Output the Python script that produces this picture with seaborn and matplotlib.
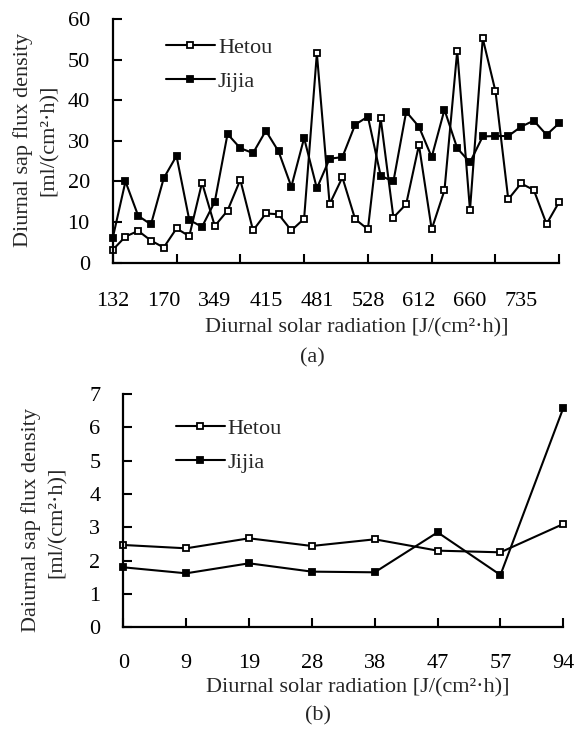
import numpy as np
import pandas as pd
import matplotlib
matplotlib.use("Agg")
import matplotlib.pyplot as plt
import seaborn as sns

# ---- data (a) ----
top_ticklabels = ['132', '170', '349', '415', '481', '528', '612', '660', '735']
top_hetou = [3.1, 6.4, 7.8, 5.4, 3.7, 8.4, 6.5, 19.7, 9.0, 12.8, 20.4, 7.9, 12.1, 11.9,
             7.9, 10.8, 51.6, 14.4, 21.0, 10.7, 8.2, 35.6, 11.1, 14.4, 29.0, 8.2, 17.8,
             52.2, 12.9, 55.3, 42.2, 15.6, 19.5, 17.9, 9.5, 15.0]
top_jijia = [6.0, 20.0, 11.5, 9.4, 20.8, 26.3, 10.5, 8.8, 15.0, 31.7, 28.2, 27.0, 32.5, 27.4,
             18.7, 30.7, 18.3, 25.6, 26.0, 34.0, 36.0, 21.4, 20.0, 37.2, 33.5, 26.0, 37.7,
             28.2, 24.7, 31.1, 31.2, 31.2, 33.5, 35.0, 31.5, 34.4]

# ---- data (b) ----
bot_ticklabels = ['0', '9', '19', '28', '38', '47', '57', '94']
bot_hetou = [2.47, 2.37, 2.67, 2.44, 2.64, 2.30, 2.25, 3.10]
bot_jijia = [1.80, 1.62, 1.92, 1.67, 1.65, 2.85, 1.57, 6.58]

sns.set_theme(style="white")
plt.rcParams['font.family'] = ['Liberation Serif', 'DejaVu Serif']
FS = 16

W, H = 577, 738
fig = plt.figure(figsize=(W / 100, H / 100), dpi=100)

def fx(px):
    return px / W

def fy(py):
    return 1 - py / H

ax1 = fig.add_axes([fx(112.7), fy(262.5), (559.3 - 112.7) / W, (262.5 - 19.3) / H])
ax2 = fig.add_axes([fx(123.3), fy(627.3), (563.3 - 123.3) / W, (627.3 - 394.0) / H])

top_df = pd.DataFrame({'pos': np.arange(len(top_hetou)), 'Hetou': top_hetou, 'Jijia': top_jijia})
bot_df = pd.DataFrame({'pos': np.arange(len(bot_hetou)), 'Hetou': bot_hetou, 'Jijia': bot_jijia})

line_kw = dict(color='black', linewidth=1.5, markersize=4.2, markeredgewidth=1.3,
               clip_on=False, sort=False)

for ax, df in ((ax1, top_df), (ax2, bot_df)):
    sns.lineplot(data=df, x='pos', y='Hetou', ax=ax, marker='s', markerfacecolor='white',
                 markeredgecolor='black', label='Hetou', **line_kw)
    sns.lineplot(data=df, x='pos', y='Jijia', ax=ax, marker='s', markerfacecolor='black',
                 markeredgecolor='black', label='Jijia', **line_kw)
    for s in ('top', 'right'):
        ax.spines[s].set_visible(False)
    for s in ('left', 'bottom'):
        ax.spines[s].set_linewidth(1.6)
        ax.spines[s].set_color('black')
    ax.set_xlabel('')
    ax.set_ylabel('')
    ax.grid(False)
    ax.set_facecolor('white')

# ---- axes (a) ----
n1 = len(top_hetou)
ax1.xaxis.remove_overlapping_locs = False
ax1.set_xlim(0, n1 - 1)
ax1.set_ylim(0, 60)
ax1.set_yticks(np.arange(0, 61, 10))
ax1.set_xticks(np.arange(0, n1, 5))
ax1.set_xticklabels([])
ax1.set_xticks(np.arange(0, n1, 4)[:len(top_ticklabels)], top_ticklabels, minor=True)
ax1.tick_params(axis='x', which='major', direction='in', length=6.5, width=1.5, color='black',
                bottom=True)
ax1.tick_params(axis='x', which='minor', length=0, pad=21, labelsize=FS, labelcolor='black',
                bottom=True)
ax1.tick_params(axis='y', which='major', direction='in', length=6.5, width=1.5, color='black',
                pad=16.5, labelsize=FS, labelcolor='black', left=True)

# ---- axes (b) ----
n2 = len(bot_hetou)
ax2.set_xlim(0, n2 - 1)
ax2.set_ylim(0, 7)
ax2.set_yticks(np.arange(0, 8, 1))
ax2.set_xticks(np.arange(n2), bot_ticklabels)
ax2.tick_params(axis='x', which='major', direction='in', length=6.5, width=1.5, color='black',
                pad=19, labelsize=FS, labelcolor='black', bottom=True)
ax2.tick_params(axis='y', which='major', direction='in', length=6.5, width=1.5, color='black',
                pad=16.5, labelsize=FS, labelcolor='black', left=True)

# ---- legends ----
leg_kw = dict(frameon=False, fontsize=FS, handlelength=2.2, handletextpad=0.14,
              labelspacing=0.62, borderpad=0, borderaxespad=0, loc='upper left',
              bbox_transform=fig.transFigure)
ax1.legend(bbox_to_anchor=(fx(166), fy(37)), **leg_kw)
ax2.legend(bbox_to_anchor=(fx(175.7), fy(418)), **leg_kw)

# ---- text labels ----
fig.text(fx(357), fy(328), 'Diurnal solar radiation [J/(cm²·h)]', ha='center', va='center', fontsize=FS)
fig.text(fx(312), fy(358), '(a)', ha='center', va='center', fontsize=FS)
fig.text(fx(23), fy(140), 'Diurnal sap flux density', ha='center', va='center', rotation=90, fontsize=FS)
fig.text(fx(49), fy(140), '[ml/(cm²·h)]', ha='center', va='center', rotation=90, fontsize=FS)

fig.text(fx(358), fy(688), 'Diurnal solar radiation [J/(cm²·h)]', ha='center', va='center', fontsize=FS)
fig.text(fx(318), fy(716), '(b)', ha='center', va='center', fontsize=FS)
fig.text(fx(31), fy(520), 'Daiurnal sap flux density', ha='center', va='center', rotation=90, fontsize=FS)
fig.text(fx(57), fy(522), '[ml/(cm²·h)]', ha='center', va='center', rotation=90, fontsize=FS)

fig.savefig('out.png', dpi=100, facecolor='white')
